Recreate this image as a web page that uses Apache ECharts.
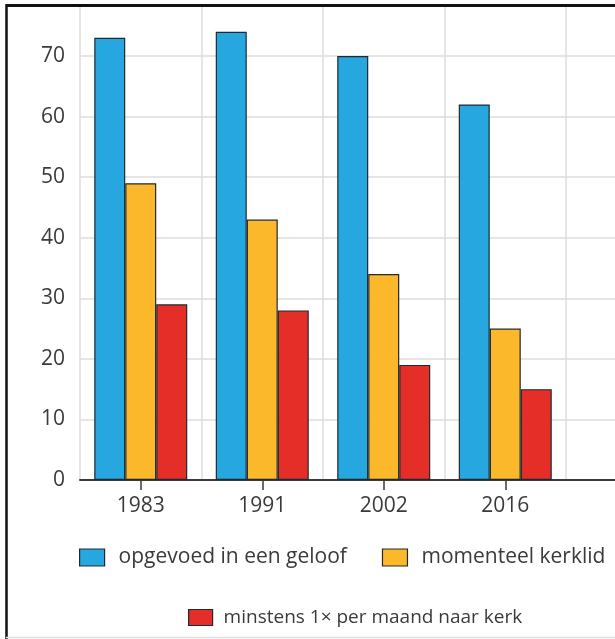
<!DOCTYPE html>
<html>
<head>
<meta charset="utf-8">
<script src="https://cdn.jsdelivr.net/npm/echarts@6/dist/echarts.min.js"></script>
<style>
html,body{margin:0;padding:0;background:#fff;}
#c{width:615px;height:639px;}
</style>
</head>
<body>
<div id="c"></div>
<script>
var categories = ['1983', '1991', '2002', '2016', ''];
var opgevoed = [73, 74, 70, 62, null];
var kerklid = [49, 43, 34, 25, null];
var maandelijks = [29, 28, 19, 15, null];
var seriesNames = ['opgevoed in een geloof', 'momenteel kerklid', 'minstens 1\u00d7 per maand naar kerk'];
var yTicks = [0, 10, 20, 30, 40, 50, 60, 70, 80];

var FONT = 'Open Sans';
var TXT = '#3a3a3a';
var chart = echarts.init(document.getElementById('c'), null, {renderer: 'canvas'});
function bar(name, data, color) {
  return {
    name: name, type: 'bar', data: data, barWidth: 31, barGap: '0%',
    itemStyle: {color: color, borderColor: '#1e2a30', borderWidth: 1.2},
    silent: true
  };
}
chart.setOption({
  animation: false,
  backgroundColor: '#ffffff',
  grid: {left: 80, right: -72.5, top: -4.6, bottom: 159, outerBoundsMode: 'none', containLabel: false},
  xAxis: {
    type: 'category', data: categories,
    axisLine: {show: true, lineStyle: {color: '#3a3a3a', width: 2}},
    axisTick: {show: true, alignWithLabel: true, length: 10, lineStyle: {color: '#3a3a3a', width: 1.5}},
    axisLabel: {color: TXT, fontFamily: FONT, fontSize: 21, margin: 16},
    splitLine: {show: true, lineStyle: {color: '#dcdcdc', width: 1.5}}
  },
  yAxis: {
    type: 'value', min: yTicks[0], max: yTicks[yTicks.length - 1], interval: 10,
    axisLine: {show: false}, axisTick: {show: false},
    axisLabel: {color: TXT, fontFamily: FONT, fontSize: 21, margin: 15},
    splitLine: {show: true, lineStyle: {color: '#dcdcdc', width: 1.5}}
  },
  legend: [{
    data: [seriesNames[0], seriesNames[1]],
    left: 74, top: 542, itemWidth: 25, itemHeight: 17, itemGap: 35,
    icon: 'rect',
    itemStyle: {borderColor: '#1e2a30', borderWidth: 1.2},
    textStyle: {color: TXT, fontFamily: FONT, fontSize: 21, padding: [0, 0, 0, 9]}
  }, {
    data: [seriesNames[2]],
    left: 183, top: 603, itemWidth: 24, itemHeight: 16,
    icon: 'rect',
    itemStyle: {borderColor: '#1e2a30', borderWidth: 1.2},
    textStyle: {color: TXT, fontFamily: FONT, fontSize: 19, padding: [0, 0, 0, 6]}
  }],
  graphic: [
    {type: 'line', shape: {x1: 6, y1: 5.5, x2: 615, y2: 5.5}, style: {stroke: '#111', lineWidth: 3}, z: 100},
    {type: 'line', shape: {x1: 6.5, y1: 4, x2: 6.5, y2: 639}, style: {stroke: '#111', lineWidth: 2.5}, z: 100},
    {type: 'line', shape: {x1: 6, y1: 637.5, x2: 615, y2: 637.5}, style: {stroke: '#e0e0e0', lineWidth: 1.5}, z: 100},
    {type: 'rect', shape: {x: 0, y: 0, width: 5, height: 639}, style: {fill: '#fff'}, z: 99},
    {type: 'rect', shape: {x: 0, y: 0, width: 615, height: 4}, style: {fill: '#fff'}, z: 99}
  ],
  series: [
    bar(seriesNames[0], opgevoed, '#27a7df'),
    bar(seriesNames[1], kerklid, '#fbb82b'),
    bar(seriesNames[2], maandelijks, '#e52e28')
  ]
});
</script>
</body>
</html>
